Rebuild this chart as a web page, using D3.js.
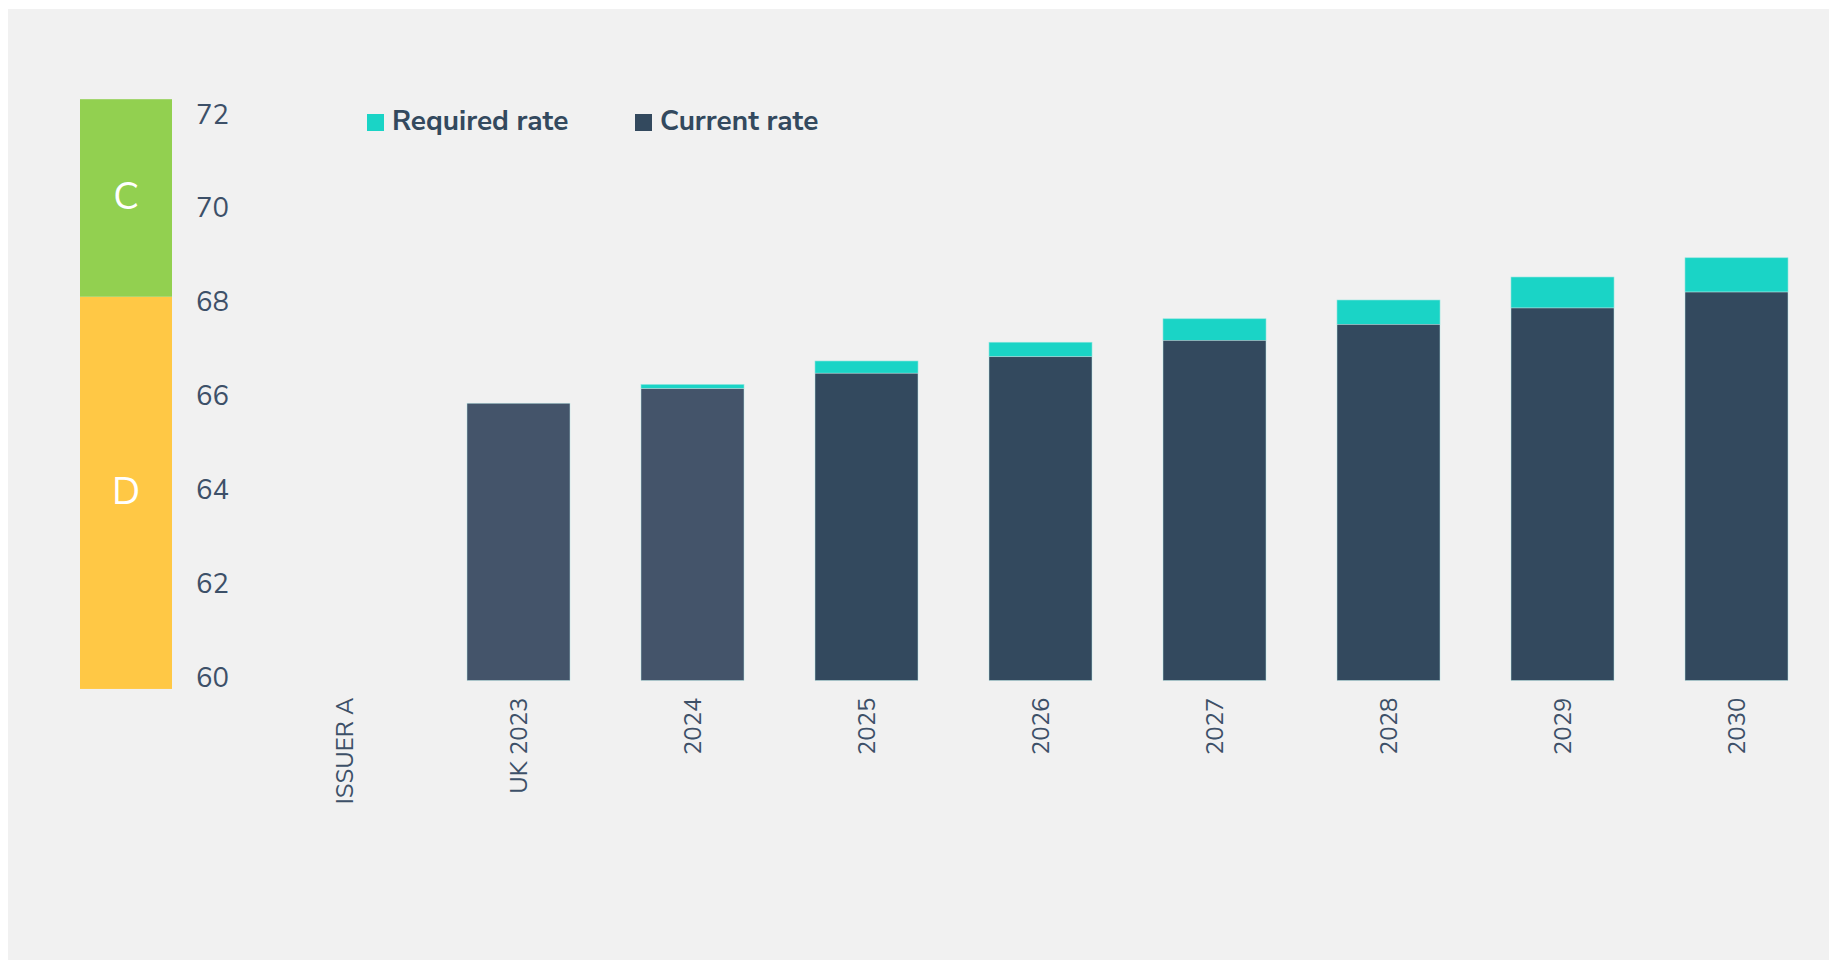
<!DOCTYPE html>
<meta charset="utf-8">
<head>
    <title>Required vs current rate</title>
</head>
<style>
    body {
        margin: 0;
        background-color: #ffffff;
        font-family: "Nunito Sans", Lato, "Open Sans", Arial, sans-serif;
    }

    .axis path,
    .axis line {
        display: none;
    }

    .axis text {
        fill: #3d5068;
    }

    text.legend {
        font-size: 28px;
        font-weight: 700;
        fill: #33495e;
    }

    text.grade {
        font-size: 38px;
        fill: #ffffff;
    }
</style>
<body>
    <svg width="1829" height="960"></svg>
</body>

<script src="https://d3js.org/d3.v7.min.js"></script>
<script>
    // chart data
    var categories = ["ISSUER A", "UK 2023", "2024", "2025", "2026", "2027", "2028", "2029", "2030"];
    var currentRate = [null, 65.91, 66.22, 66.55, 66.90, 67.25, 67.59, 67.94, 68.28];
    var requiredRate = [null, 65.91, 66.31, 66.81, 67.21, 67.71, 68.11, 68.60, 69.01];
    var historic = ["UK 2023", "2024"];   // drawn in the lighter slate

    var yTicks = [60, 62, 64, 66, 68, 70, 72];

    // rating scale on the left
    var gradeLabels = ["D", "C"];
    var gradeBounds = [59.82, 68.18, 72.39];
    var gradeColours = ["#ffc845", "#92d050"];

    var legendLabels = ["Required rate", "Current rate"];
    var legendColours = ["#1ad4c6", "#33495e"];

    var svg = d3.select("svg");

    // panel background
    svg.append("rect")
        .attr("x", 8)
        .attr("y", 9)
        .attr("width", 1821)
        .attr("height", 951)
        .attr("fill", "#f1f1f1");

    var y = d3.scaleLinear()
        .domain([60, 72])
        .range([680.5, 117.5]);

    var x = d3.scaleBand()
        .domain(categories)
        .range([257.5, 1823.5])
        .paddingInner(0.408)
        .paddingOuter(0.204);

    var rows = categories.map(function (c, i) {
        return { name: c, current: currentRate[i], required: requiredRate[i] };
    }).filter(d => d.current != null);

    // grade band
    var grades = gradeLabels.map(function (g, i) {
        return { grade: g, lo: gradeBounds[i], hi: gradeBounds[i + 1], colour: gradeColours[i] };
    });

    svg.selectAll("rect.gradeband")
        .data(grades)
        .enter()
        .append("rect")
        .attr("class", "gradeband")
        .attr("x", 80)
        .attr("width", 92)
        .attr("y", d => y(d.hi))
        .attr("height", d => y(d.lo) - y(d.hi))
        .attr("fill", d => d.colour);

    svg.selectAll("text.grade")
        .data(grades)
        .enter()
        .append("text")
        .attr("class", "grade")
        .attr("x", 126)
        .attr("y", d => (y(d.hi) + y(d.lo)) / 2)
        .attr("dy", "0.29em")
        .attr("text-anchor", "middle")
        .text(d => d.grade);

    // y axis (labels only)
    var yAxis = d3.axisLeft(y)
        .tickValues(yTicks)
        .tickSize(0)
        .tickPadding(0);

    svg.append("g")
        .attr("class", "axis yAxis")
        .attr("transform", "translate(229,0)")
        .call(yAxis)
        .selectAll("text")
        .attr("dy", "0.2em")
        .style("font-size", "27.5px")
        .style("font-family", "\"Nunito Sans\", Lato, \"Open Sans\", Arial, sans-serif");

    // x axis, rotated labels
    var xAxis = d3.axisBottom(x).tickSize(0);

    svg.append("g")
        .attr("class", "axis xAxis")
        .attr("transform", "translate(0," + y(60) + ")")
        .call(xAxis)
        .selectAll("text")
        .attr("transform", "rotate(-90)")
        .attr("x", -17)
        .attr("y", 0)
        .attr("dy", "0.36em")
        .style("text-anchor", "end")
        .style("font-size", "24px")
        .style("font-family", "\"Nunito Sans\", Lato, \"Open Sans\", Arial, sans-serif");

    // required rate (top part of each stack)
    svg.selectAll("rect.required")
        .data(rows.filter(d => d.required > d.current))
        .enter()
        .append("rect")
        .attr("class", "required")
        .attr("x", d => x(d.name))
        .attr("width", x.bandwidth())
        .attr("y", d => y(d.required))
        .attr("height", d => y(d.current) - y(d.required))
        .attr("fill", legendColours[0])
        .attr("stroke", "#8fe6df")
        .attr("stroke-width", 0.6);

    // current rate
    svg.selectAll("rect.current")
        .data(rows)
        .enter()
        .append("rect")
        .attr("class", "current")
        .attr("x", d => x(d.name))
        .attr("width", x.bandwidth())
        .attr("y", d => y(d.current))
        .attr("height", d => y(60) - y(d.current))
        .attr("fill", d => historic.indexOf(d.name) >= 0 ? "#44546a" : legendColours[1])
        .attr("stroke", "#b9e6e6")
        .attr("stroke-width", 0.5);

    // legend
    var legendX = [367, 635];

    var legend = svg.selectAll("g.legenditem")
        .data(legendLabels)
        .enter()
        .append("g")
        .attr("class", "legenditem")
        .attr("transform", (d, i) => "translate(" + legendX[i] + ",114)");

    legend.append("rect")
        .attr("width", 17)
        .attr("height", 17)
        .attr("fill", (d, i) => legendColours[i]);

    legend.append("text")
        .attr("class", "legend")
        .attr("x", 25)
        .attr("y", 15.5)
        .text(d => d);
</script>
